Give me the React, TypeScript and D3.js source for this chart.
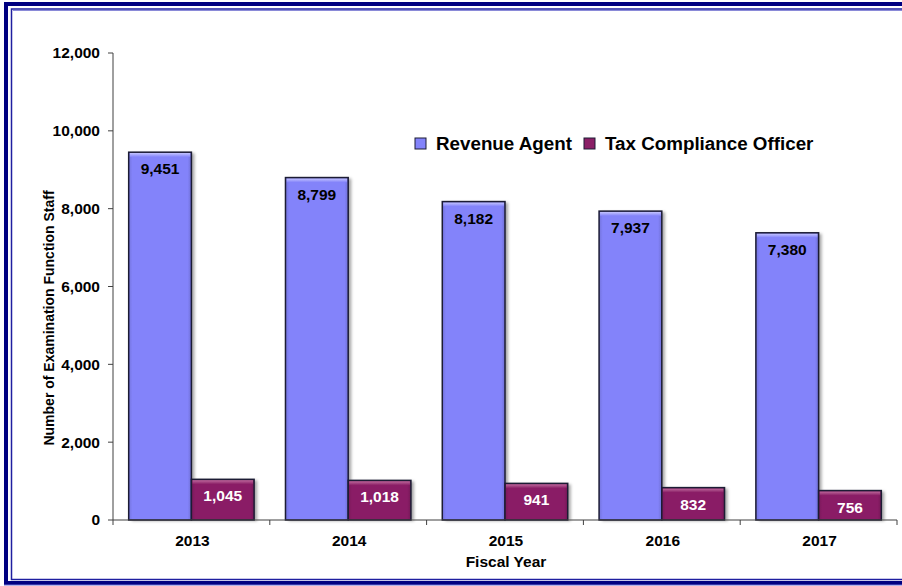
import React from "react";
import * as d3 from "d3";

const years = ["2013", "2014", "2015", "2016", "2017"];
const seriesNames = ["Revenue Agent", "Tax Compliance Officer"];
const revenueAgent = [9451, 8799, 8182, 7937, 7380];
const taxComplianceOfficer = [1045, 1018, 941, 832, 756];
const yTicks = [0, 2000, 4000, 6000, 8000, 10000, 12000];

const W = 902;
const H = 586;
const FONT = "'Liberation Sans', Arial, sans-serif";
const colors = ["#8383FA", "#8A1F66"];
const topColors = ["#C4C4FF", "#C06A9E"];
const labelColors = ["#000", "#fff"];

export default function App() {
  const x0 = d3.scaleBand<string>().domain(years).range([113, 897]).padding(0);
  const x1 = d3
    .scaleBand<string>()
    .domain(seriesNames)
    .range([0, x0.bandwidth()])
    .paddingInner(0)
    .paddingOuter(0.25);
  const y = d3.scaleLinear().domain([0, 12000]).range([520, 53]);
  const fmt = d3.format(",");
  const values = [revenueAgent, taxComplianceOfficer];

  return (
    <svg
      width={W}
      height={H}
      style={{ position: "absolute", left: 0, top: 0, background: "#fff" }}
      fontFamily={FONT}
    >
      <defs>
        <filter id="shadow" x="-20%" y="-20%" width="150%" height="150%">
          <feDropShadow dx="3" dy="1" stdDeviation="1.6" floodColor="#000" floodOpacity="0.35" />
        </filter>
        {colors.map((c, i) => (
          <linearGradient key={i} id={`top${i}`} x1="0" y1="0" x2="0" y2="1">
            <stop offset="0%" stopColor={topColors[i]} />
            <stop offset="100%" stopColor={c} />
          </linearGradient>
        ))}
        {colors.map((c, i) => (
          <linearGradient key={i} id={`side${i}`} x1="0" y1="0" x2="1" y2="0">
            <stop offset="0%" stopColor="#000" stopOpacity="0.12" />
            <stop offset="6%" stopColor="#000" stopOpacity="0" />
            <stop offset="94%" stopColor="#000" stopOpacity="0" />
            <stop offset="100%" stopColor="#000" stopOpacity="0.15" />
          </linearGradient>
        ))}
      </defs>

      {/* frame */}
      <rect x={6} y={4} width={W + 20} height={579} fill="none" stroke="#000080" strokeWidth={4} />
      <rect x={11.5} y={9} width={W + 20} height={570.5} fill="none" stroke="#1f1fa0" strokeWidth={1.5} />
      <line x1={13} y1={10.5} x2={W} y2={10.5} stroke="#8a8ad8" strokeWidth={1} />
      <line x1={4} y1={585} x2={W} y2={585} stroke="#6a6ad0" strokeWidth={1} />

      {/* y axis */}
      <line x1={113} y1={y(12000)} x2={113} y2={y(0)} stroke="#404040" strokeWidth={1} />
      {yTicks.map((t) => (
        <g key={t}>
          <line x1={108} x2={113} y1={y(t)} y2={y(t)} stroke="#404040" />
          <text
            x={100}
            y={y(t)}
            dy="0.35em"
            textAnchor="end"
            fontSize={15.5}
            fontWeight="bold"
            fill="#000"
          >
            {fmt(t)}
          </text>
        </g>
      ))}
      <text
        transform={`translate(54,318) rotate(-90)`}
        textAnchor="middle"
        fontSize={14}
        fontWeight="bold"
        fill="#000"
      >
        Number of Examination Function Staff
      </text>

      {/* bars */}
      {years.map((yr, i) => (
        <g key={yr} transform={`translate(${x0(yr)},0)`}>
          {seriesNames.map((s, si) => {
            const v = values[si][i];
            const bx = x1(s)!;
            const bw = x1.bandwidth();
            const top = y(v);
            const h = y(0) - top;
            return (
              <g key={s}>
                <rect x={bx} y={top} width={bw} height={h} fill={colors[si]} filter="url(#shadow)" />
                <rect x={bx} y={top} width={bw} height={h} fill={`url(#side${si})`} />
                <rect x={bx + 1} y={top + 0.8} width={bw - 2} height={4} fill={`url(#top${si})`} />
                <rect x={bx} y={top} width={bw} height={h} fill="none" stroke="#1c1c34" strokeWidth={1.5} />
                <text
                  x={bx + bw / 2}
                  y={top + 22}
                  textAnchor="middle"
                  fontSize={15.5}
                  fontWeight="bold"
                  fill={labelColors[si]}
                >
                  {fmt(v)}
                </text>
              </g>
            );
          })}
        </g>
      ))}

      {/* x axis */}
      <line x1={113} x2={897} y1={y(0)} y2={y(0)} stroke="#404040" />
      {[...years.map((yr) => x0(yr)!), 897].map((xx, i) => (
        <line key={i} x1={xx} x2={xx} y1={y(0)} y2={y(0) + 5} stroke="#404040" />
      ))}
      {years.map((yr) => (
        <text
          key={yr}
          x={x0(yr)! + x0.bandwidth() / 2 + 1}
          y={546}
          textAnchor="middle"
          fontSize={15.5}
          fontWeight="bold"
          fill="#000"
        >
          {yr}
        </text>
      ))}
      <text x={506} y={567} textAnchor="middle" fontSize={15.5} fontWeight="bold" fill="#000">
        Fiscal Year
      </text>

      {/* legend */}
      {seriesNames.map((s, si) => {
        const lx = si === 0 ? 415 : 584;
        return (
          <g key={s}>
            <rect x={lx} y={138} width={11} height={11} fill={colors[si]} stroke="#1c1c34" strokeWidth={1} />
            <text x={lx + 21} y={150} fontSize={18.8} fontWeight="bold" fill="#000">
              {s}
            </text>
          </g>
        );
      })}
    </svg>
  );
}
